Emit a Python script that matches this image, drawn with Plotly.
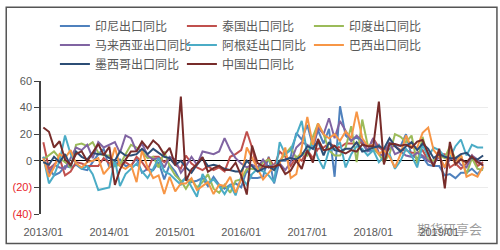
import plotly.graph_objects as go
import pandas as pd

months = pd.date_range("2013-01-01", "2019-09-01", freq="MS").strftime("%Y-%m-%d").tolist()

indonesia = [0, -6, -11, -9, -4, -5, -3, -6, -7, -1, 5, 9,
             -5, -3, 1, -4, -4, 2, -9, -6, -7, -1, -14, -3,
             -8, -16, -13, -16, -15, -13, -19, -12, -18, -21, -18, -17,
             -20, -7, -13, -13, -12, 3, -17, 0, 0, 3, 21, 16,
             27, 11, 23, 13, 24, -12, 41, 19, 15, 18, 13, 7,
             8, 12, 6, 9, 12, 11, 20, 4, 2, 3, -3, -4,
             -4, -11, -10, -13, -9, -9, -6, -10, -5]
thailand = [14, -6, -3, 2, -11, -8, -1, -2, -4, -4, -4, 2,
            -2, -2, -3, -1, -4, 3, -1, -7, 3, 3, -1, 2,
            -3, -6, 4, -2, -5, -7, -4, -7, -5, -8, 3, 5,
            8, 22, 10, -8, -4, 2, -4, 7, 3, -4, 3, 0,
            8, 2, 9, 10, 13, 11, 10, 13, 13, 13, 14, 8,
            17, 10, 8, 12, 11, 8, 8, 6, 6, 8, 0, -2,
            5, 5, -5, -2, -6, -2, 4, -4, -1]
india = [1, 4, 7, 2, -1, -5, 12, 13, 11, 14, 6, 4,
         4, -4, -3, 5, 12, 10, 7, 2, 3, -5, 7, -4,
         -11, -15, -21, -14, -20, -16, -10, -21, -24, -18, -24, -15,
         -14, -6, -6, -7, -1, 1, -7, 0, 5, 10, 2, 6,
         4, 18, 28, 20, 8, 4, 4, 10, 26, -1, 31, 12,
         9, 5, -1, 5, 20, 18, 14, 19, -2, 18, 1, 0,
         4, 2, 11, 1, 4, -10, 2, -6, -7]
malaysia = [3, -10, -3, -5, -6, 2, 10, 8, 12, 2, 14, 10,
            12, 14, 6, 19, 17, 7, 13, 4, 1, 2, -5, 3,
            1, -9, -4, 3, -3, 7, 6, 5, 7, 17, 8, 2,
            -2, -5, -3, -5, 1, -5, -3, -2, -7, -1, 10, 14,
            12, 9, 25, 20, 32, 17, 30, 22, 15, 19, 15, 7,
            17, 6, 3, 14, 5, 7, 4, 3, 6, 4, 0, -2,
            3, -5, 1, 2, -3, -5, 4, 1, -4]
argentina = [3, -17, -11, 0, 19, 5, -2, -6, -4, -10, -22, -21,
             -20, 1, -19, -10, -6, -2, -8, -13, -6, 2, -8, -10,
             -14, -18, -12, -20, -27, -10, -17, -14, -19, -25, -18, -26,
             -12, -18, -10, -6, -8, -11, -16, 14, 5, 8, 19, 30,
             5, 13, 2, -6, 8, 9, 14, -5, 5, 11, 9, 4,
             8, -1, 3, 5, -6, 0, 9, 4, -5, 12, 3, 10,
             8, 3, 2, 11, 16, 4, 12, 10, 10]
brazil = [2, -12, -5, 5, 2, 8, -2, -5, -1, 0, 2, -10,
          -5, 10, -4, -6, -3, -16, 8, -5, -13, -11, -25, -12,
          -23, -17, -17, -13, -22, -19, -16, -25, -18, -19, -12, -24,
          -14, 10, 2, -6, -14, -9, -4, -2, 10, -13, -10, 10,
          33, 12, 28, 20, 17, 20, 15, 22, 17, 37, 17, 11,
          12, 5, 8, 3, -5, 5, 19, 10, 10, 21, 25, 8,
          3, -5, 8, -3, 5, -12, -10, -12, -4]
mexico = [-1, -3, 3, -1, 5, -4, 7, 3, 1, 6, 5, 5,
          2, 0, 7, 4, 4, 5, 9, 5, 9, 6, 3, 2,
          -3, 0, -5, -9, -3, 2, -4, -3, -4, -6, -7, -8,
          -8, 0, -4, -8, -6, -4, -7, 0, 1, 2, 1, 4,
          11, 9, 15, 4, 14, 8, 7, 9, 9, 14, 7, 8,
          10, 11, 9, 17, 11, 7, 11, 14, 8, 13, 9, 2,
          5, 3, 2, 2, 5, 6, 2, 1, 4]
china = [25.0, 21.8, 10.0, 14.7, 1.0, -3.1, 5.1, 7.2, -0.3, 5.6, 12.7, 4.3,
         10.6, -18.1, -6.6, 0.9, 7.0, 7.2, 14.5, 9.4, 15.3, 11.6, 4.7, 9.7,
         -3.3, 48.3, -15.0, -6.4, -2.5, 2.8, -8.3, -5.5, -3.7, -6.9, -6.8, -1.4,
         -11.2, -25.4, 11.5, -1.8, -4.1, -4.8, -4.4, -2.8, -10.0, -7.3, 0.1, -6.1,
         7.9, -1.3, 16.4, 8.0, 8.7, 11.3, 7.2, 5.5, 8.1, 6.9, 12.3, 10.9,
         11.1, 44.5, -2.7, 12.9, 12.6, 11.3, 12.2, 9.8, 14.5, 15.6, 5.4, -4.4,
         9.1, -20.7, 14.2, -2.7, 1.1, -1.3, 3.3, -1.0, -3.2]

series_names = ["印尼出口同比", "泰国出口同比", "印度出口同比", "马来西亚出口同比",
                "阿根廷出口同比", "巴西出口同比", "墨西哥出口同比", "中国出口同比"]
series_values = [indonesia, thailand, india, malaysia, argentina, brazil, mexico, china]
colors = ["#4F81BD", "#C0504D", "#9BBB59", "#8064A2", "#4BACC6", "#F79646", "#2C4D75", "#772C2A"]

y_tickvals = [-40, -20, 0, 20, 40, 60]
y_ticktext = ['<span style="color:#E8262B">(40)</span>', '<span style="color:#E8262B">(20)</span>',
              "0", "20", "40", "60"]
x_tickvals = ["2013-01-01", "2014-01-01", "2015-01-01", "2016-01-01",
              "2017-01-01", "2018-01-01", "2019-01-01"]
x_ticktext = ["2013/01", "2014/01", "2015/01", "2016/01", "2017/01", "2018/01", "2019/01"]

fig = go.Figure()
for name, vals, c in zip(series_names, series_values, colors):
    fig.add_trace(go.Scatter(x=months, y=vals, name=name, mode="lines",
                             line=dict(color=c, width=2)))

L, R, T, B = 38, 12, 79, 33
W, H = 500, 250
pw, ph = W - L - R, H - T - B

def px(x):
    return (x - L) / pw

def py(y):
    return (H - B - y) / ph

fig.update_layout(
    width=W, height=H,
    margin=dict(l=L, r=R, t=T, b=B),
    paper_bgcolor="white", plot_bgcolor="white",
    font=dict(family="Liberation Sans, Arial, Noto Sans CJK SC", size=11, color="#595959"),
    showlegend=True,
    legend=dict(orientation="h", x=px(52), xanchor="left", y=py(7), yanchor="top",
                entrywidth=82, entrywidthmode="pixels",
                font=dict(family="Noto Sans CJK SC", size=12, color="#595959"),
                bgcolor="rgba(0,0,0,0)", traceorder="normal"),
    xaxis=dict(type="date", range=["2012-12-19", "2019-09-28"],
               tickvals=x_tickvals, ticktext=x_ticktext,
               showgrid=False, showline=False, zeroline=False,
               ticks="outside", ticklen=8, tickcolor="rgba(0,0,0,0)",
               tickfont=dict(size=11, color="#595959")),
    yaxis=dict(range=[-40, 60], tickvals=y_tickvals, ticktext=y_ticktext,
               showgrid=True, gridcolor="#EBEBEB", gridwidth=1,
               zeroline=True, zerolinecolor="black", zerolinewidth=1.2,
               showline=True, linecolor="#404040", linewidth=1.5,
               ticks="outside", ticklen=5, tickcolor="#404040",
               tickfont=dict(size=11, color="#595959")),
    shapes=[dict(type="rect", xref="paper", yref="paper",
                 x0=px(3), x1=px(497), y0=py(247.5), y1=py(2.5),
                 line=dict(color="#555555", width=1.5), fillcolor="rgba(0,0,0,0)")],
    annotations=[dict(text="期货研享会", xref="paper", yref="paper",
                      x=px(484), y=py(232), xanchor="right", yanchor="middle",
                      showarrow=False,
                      font=dict(family="Noto Sans CJK SC", size=13, color="rgba(90,90,90,0.6)"))],
)

fig.write_html("out.html")
